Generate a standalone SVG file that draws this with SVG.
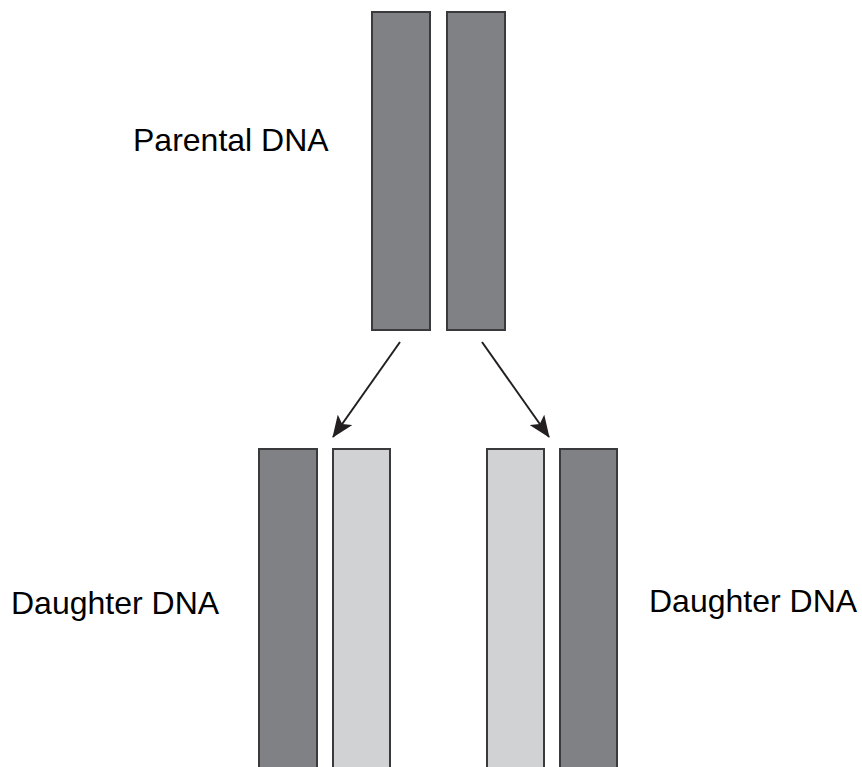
<svg xmlns="http://www.w3.org/2000/svg" width="862" height="767" viewBox="0 0 862 767">
  <defs>
    <style>
      .strand { stroke: #3a3a3c; stroke-width: 2; }
      .old { fill: #808184; }
      .new { fill: #d1d2d4; }
      .label { font-family: "Liberation Sans", Arial, sans-serif; font-size: 32px; fill: #000; }
      .conn { stroke: #231f20; stroke-width: 2; fill: none; }
    </style>
    <marker id="arrowhead" markerWidth="22" markerHeight="18" refX="21" refY="9" orient="auto" markerUnits="userSpaceOnUse">
      <path d="M0,0 L22,9 L0,18 L5,9 Z" fill="#231f20"/>
    </marker>
  </defs>

  <rect width="862" height="767" fill="#fff"/>

  <g id="parental">
    <rect class="strand old" x="372" y="12" width="58" height="318"/>
    <rect class="strand old" x="447" y="12" width="58" height="318"/>
    <text class="label" x="133" y="151">Parental DNA</text>
  </g>

  <g id="daughter-left">
    <rect class="strand old" x="259" y="449" width="58" height="330"/>
    <rect class="strand new" x="333" y="449" width="57" height="330"/>
    <text class="label" x="11" y="614">Daughter DNA</text>
  </g>

  <g id="daughter-right">
    <rect class="strand new" x="487" y="449" width="57" height="330"/>
    <rect class="strand old" x="560" y="449" width="57" height="330"/>
    <text class="label" x="649" y="612">Daughter DNA</text>
  </g>

  <g id="connectors">
    <line class="conn" x1="400" y1="342" x2="333" y2="437" marker-end="url(#arrowhead)"/>
    <line class="conn" x1="482" y1="342" x2="549" y2="437" marker-end="url(#arrowhead)"/>
  </g>
</svg>
